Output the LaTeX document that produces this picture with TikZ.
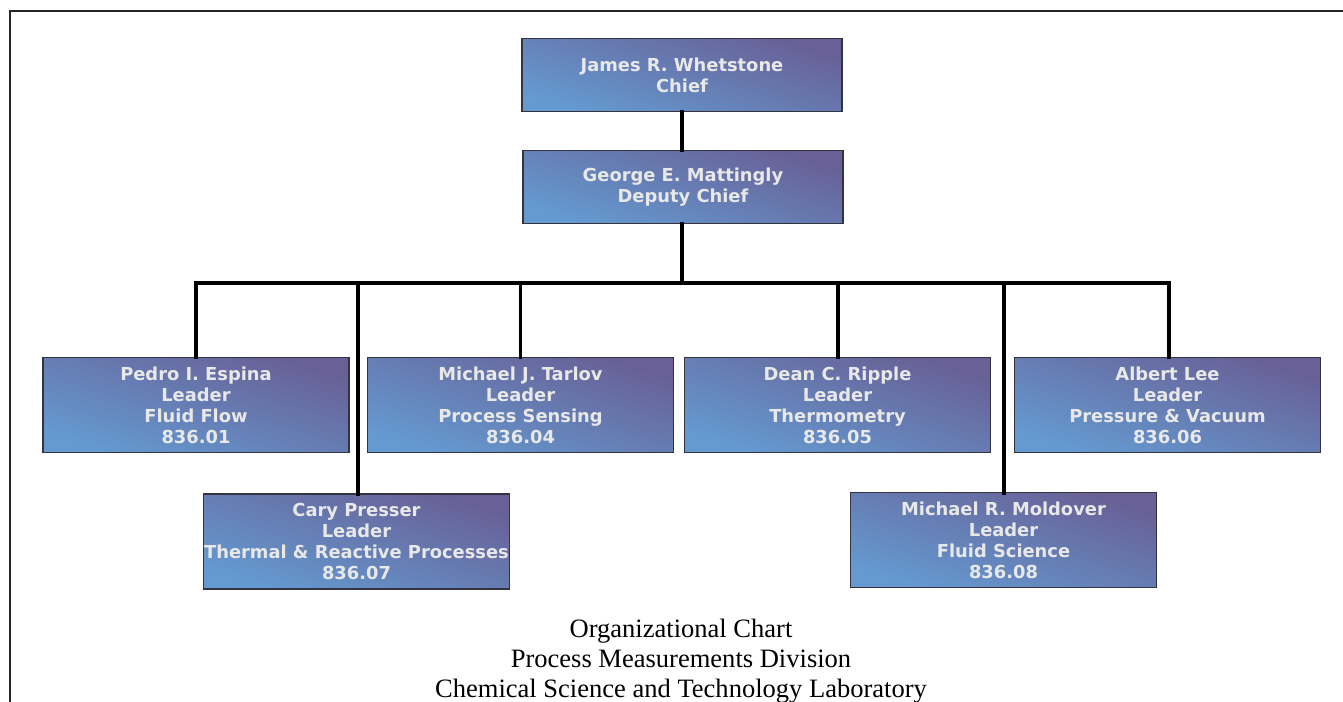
\documentclass[tikz,border=0pt]{standalone}
\usepackage{fontspec}
\setmainfont{Liberation Serif}
\newfontfamily\unitfont{DejaVu Sans}
\usepackage{tikz}
\usetikzlibrary{positioning}

\definecolor{unittop}{RGB}{104,96,150}
\definecolor{unitbot}{RGB}{100,154,208}
\definecolor{unitedge}{RGB}{52,52,64}
\definecolor{unittext}{RGB}{232,232,232}

\tikzset{
  unit/.style={draw=unitedge, line width=1.1pt, top color=unittop, bottom color=unitbot, shading angle=-18,
    minimum width=229.5pt, minimum height=71.25pt, inner sep=0pt, align=center, text=unittext,
    font=\unitfont\bfseries\fontsize{13.4}{15.75}\selectfont},
  head/.style={unit, minimum width=240pt, minimum height=54.75pt},
  link/.style={line width=2.7pt, line cap=rect}
}

\begin{document}
\begin{tikzpicture}[x=0.75pt,y=0.75pt,yscale=-1,xscale=1]
\useasboundingbox (0,0) rectangle (1343,702);

%Frame
\draw [line width=1.8pt, black!85] (10,702) -- (10,11) -- (1343,11) ;

%Shape: Chief and Deputy
\node [head] (chief) at (682,75) {James R. Whetstone\\Chief};
\node [head] (deputy) at (683,187) {George E. Mattingly\\Deputy Chief};

%Shape: Groups, first row
\node [unit] (espina) at (196,405) {Pedro I. Espina\\Leader\\Fluid Flow\\836.01};
\node [unit] (tarlov) at (520.5,405) {Michael J. Tarlov\\Leader\\Process Sensing\\836.04};
\node [unit] (ripple) at (837.5,405) {Dean C. Ripple\\Leader\\Thermometry\\836.05};
\node [unit] (lee) at (1167.5,405) {Albert Lee\\Leader\\Pressure \& Vacuum\\836.06};

%Shape: Groups, second row
\node [unit] (presser) at (356.5,541.5) {Cary Presser\\Leader\\Thermal \& Reactive Processes\\836.07};
\node [unit] (moldover) at (1003.5,540) {Michael R. Moldover\\Leader\\Fluid Science\\836.08};

%Connectors
\coordinate (bar) at (682,283);
\draw [link] (chief.south) -- (chief.south |- deputy.north) ;
\draw [link] (deputy.south -| bar) -- (bar) ;
\draw [link] (bar) -| (espina.north) ;
\draw [link] (bar) -| (358,494) ;
\draw [link] (bar) -| (tarlov.north) ;
\draw [link] (bar) -| (838,357) ;
\draw [link] (bar) -| (1004,493) ;
\draw [link] (bar) -| (1169,357) ;

% Text Node
\node [align=center, font=\fontsize{19.9}{22.5}\selectfont] (caption) at (681,661) {Organizational Chart\\Process Measurements Division\\Chemical Science and Technology Laboratory};

\end{tikzpicture}
\end{document}
